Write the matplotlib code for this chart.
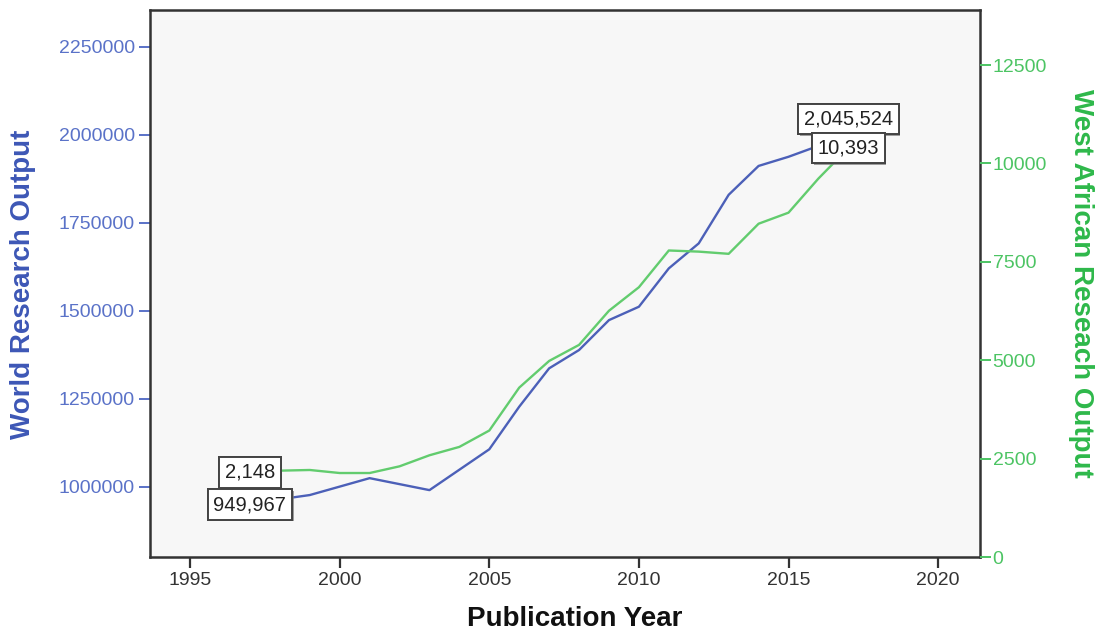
import matplotlib
matplotlib.use("Agg")
import matplotlib.pyplot as plt
import matplotlib.patheffects as pe
from matplotlib.ticker import FixedLocator, FuncFormatter

plt.rcParams['font.family'] = ['Liberation Sans', 'DejaVu Sans']

# Publication years and yearly output counts
years = list(range(1997, 2018))
world_output = [949967, 965000, 977000, 1001000, 1025000, 1008000, 991000,
                1049000, 1107000, 1228000, 1337000, 1389000, 1474000, 1512000,
                1621000, 1692000, 1830000, 1912000, 1938000, 1969000, 2045524]
west_africa_output = [2148, 2194, 2211, 2134, 2134, 2304, 2585, 2798, 3214,
                      4304, 4982, 5390, 6258, 6855, 7789, 7760, 7704, 8469,
                      8750, 9617, 10393]

x_ticks = [1995, 2000, 2005, 2010, 2015, 2020]
world_ticks = [1000000, 1250000, 1500000, 1750000, 2000000, 2250000]
wa_ticks = [0, 2500, 5000, 7500, 10000, 12500]

BLUE_LINE = '#4C60B8'
BLUE_TICK = '#5A72C8'
BLUE_LABEL = '#3D57B6'
GREEN_LINE = '#62CC6E'
GREEN_TICK = '#4CC463'
GREEN_LABEL = '#2EB84A'
FRAME = '#333333'

fig = plt.figure(figsize=(10.97, 6.30), dpi=100)
ax1 = fig.add_axes([150 / 1097, 73 / 630, 830 / 1097, 547 / 630])
ax1.set_facecolor('#F7F7F7')

ax1.plot(years, world_output, color=BLUE_LINE, lw=1.7, zorder=3)
ax1.set_xlim(1993.66, 2021.40)
ax1.set_ylim(801000, 2355000)

ax2 = ax1.twinx()
ax2.plot(years, west_africa_output, color=GREEN_LINE, lw=1.7, zorder=3)
ax2.set_ylim(0, 13900)

# ticks
ax1.xaxis.set_major_locator(FixedLocator(x_ticks))
ax1.yaxis.set_major_locator(FixedLocator(world_ticks))
ax2.yaxis.set_major_locator(FixedLocator(wa_ticks))
ax1.yaxis.set_major_formatter(FuncFormatter(lambda v, p: f"{int(round(v))}"))
ax2.yaxis.set_major_formatter(FuncFormatter(lambda v, p: f"{int(round(v))}"))

ax1.tick_params(axis='x', direction='out', length=8, width=1.6, color=FRAME,
                labelcolor='#333333', labelsize=14, pad=2.5, top=False)
ax1.tick_params(axis='y', direction='out', length=8, width=1.4, color=BLUE_TICK,
                labelcolor=BLUE_TICK, labelsize=14, pad=3)
ax2.tick_params(axis='y', direction='out', length=8, width=1.4, color=GREEN_TICK,
                labelcolor=GREEN_TICK, labelsize=14, pad=1)

for side in ['left', 'right', 'top', 'bottom']:
    ax1.spines[side].set_color(FRAME)
    ax1.spines[side].set_linewidth(1.8)
    ax2.spines[side].set_visible(False)

# end-point value labels
shadow = [pe.withSimplePatchShadow(offset=(1.2, -1.2), shadow_rgbFace='#777777', alpha=0.7),
          pe.Normal()]
box = dict(boxstyle='square,pad=0.28', facecolor='white', edgecolor='#444444', linewidth=1.4)

def value_label(ax_data, x, y, z):
    t = ax2.text(x, y, f"{y:,}", transform=ax_data.transData, ha='center', va='center',
                 fontsize=14.5, color='#222222', bbox=box, zorder=z, clip_on=False)
    t.get_bbox_patch().set_path_effects(shadow)
    return t

value_label(ax2, years[0], west_africa_output[0], 5)
value_label(ax1, years[0], world_output[0], 6)
value_label(ax1, years[-1], world_output[-1], 5)
value_label(ax2, years[-1], west_africa_output[-1], 6)

# axis titles
fig.text(575 / 1097, 1 - 626 / 630, 'Publication Year', ha='center', va='baseline',
         fontsize=20, fontweight='bold', color='#111111')
fig.text(23 / 1097, 1 - 284 / 630, 'World Research Output', ha='center', va='center',
         rotation=90, fontsize=20, fontweight='bold', color=BLUE_LABEL)
fig.text(1081 / 1097, 1 - 283 / 630, 'West African Reseach Output', ha='center', va='center',
         rotation=270, fontsize=20, fontweight='bold', color=GREEN_LABEL)

fig.savefig('out.png', dpi=100, facecolor='white')
